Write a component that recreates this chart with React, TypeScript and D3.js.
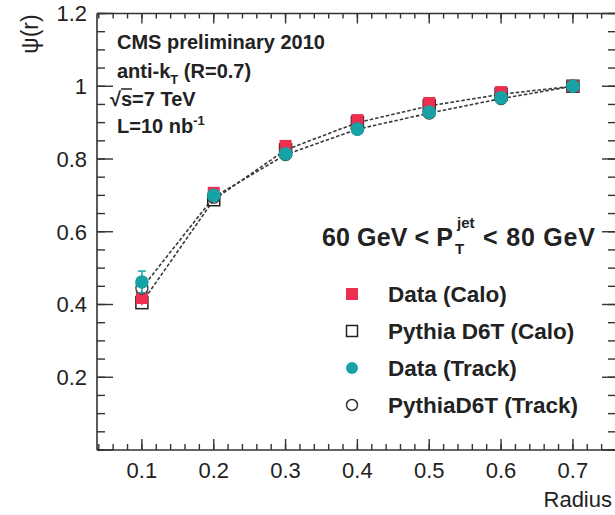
import React from "react";
import * as d3 from "d3";

const radius = [0.1, 0.2, 0.3, 0.4, 0.5, 0.6, 0.7];
const dataCalo = [0.418, 0.707, 0.836, 0.907, 0.954, 0.984, 1.0];
const dataCaloErr = [0.02, 0.006, 0, 0, 0, 0, 0];
const pythiaCalo = [0.405, 0.688, 0.825, 0.9, 0.946, 0.978, 1.0];
const dataTrack = [0.462, 0.7, 0.814, 0.882, 0.929, 0.968, 1.0];
const dataTrackErr = [0.03, 0.008, 0, 0, 0, 0, 0];
const pythiaTrack = [0.445, 0.695, 0.812, 0.882, 0.926, 0.966, 1.0];

const xMajor = [0.1, 0.2, 0.3, 0.4, 0.5, 0.6, 0.7];
const yMajor = [0, 0.2, 0.4, 0.6, 0.8, 1.0, 1.2];
const yLabels = ["", "0.2", "0.4", "0.6", "0.8", "1", "1.2"];
const legendLabels = ["Data (Calo)", "Pythia D6T (Calo)", "Data (Track)", "PythiaD6T (Track)"];

const W = 615;
const H = 515;
const L = 97, R = 616, T = 13.5, B = 450;
const RED = "#ee2e4f";
const TEAL = "#17a3a6";
const INK = "#222";
const AX = "#333";

export default function App() {
  const x = d3.scaleLinear().domain([0.0375, 0.76]).range([L, R]);
  const y = d3.scaleLinear().domain([0, 1.2]).range([B, T]);
  const xMinor = d3.range(0.04, 0.761, 0.02);
  const yMinor = d3.range(0, 1.201, 0.05);
  const line = (vals: number[]) =>
    d3.line<number>().x((_, i) => x(radius[i])).y((v) => y(v))(vals) || "";

  const sq = 12;
  const legY = [294, 331, 368, 405];
  const legX = 352;

  return (
    <svg width={W} height={H} style={{ position: "absolute", left: 0, top: 0, background: "#fff" }}
      fontFamily="'Liberation Sans', Arial, Helvetica, sans-serif">
      <rect width={W} height={H} fill="#fff" />
      {/* frame */}
      <g stroke={AX} strokeWidth={1.6} fill="none">
        <line x1={L} y1={T} x2={R} y2={T} />
        <line x1={L} y1={B} x2={R} y2={B} />
        <line x1={L} y1={T} x2={L} y2={B} />
        <line x1={R} y1={T} x2={R} y2={B} />
      </g>
      {/* ticks */}
      <g stroke={AX} strokeWidth={1.4}>
        {xMinor.map((v, i) => (
          <g key={"xm" + i}>
            <line x1={x(v)} x2={x(v)} y1={B} y2={B - 6} />
            <line x1={x(v)} x2={x(v)} y1={T} y2={T + 5} />
          </g>
        ))}
        {xMajor.map((v, i) => (
          <g key={"xM" + i}>
            <line x1={x(v)} x2={x(v)} y1={B} y2={B - 11} />
            <line x1={x(v)} x2={x(v)} y1={T} y2={T + 10} />
          </g>
        ))}
        {yMinor.map((v, i) => (
          <g key={"ym" + i}>
            <line x1={L} x2={L + 8} y1={y(v)} y2={y(v)} />
            <line x1={R} x2={R - 8} y1={y(v)} y2={y(v)} />
          </g>
        ))}
        {yMajor.map((v, i) => (
          <g key={"yM" + i}>
            <line x1={L} x2={L + 16} y1={y(v)} y2={y(v)} />
            <line x1={R} x2={R - 14} y1={y(v)} y2={y(v)} />
          </g>
        ))}
      </g>
      {/* tick labels */}
      <g fill={INK} fontSize={22}>
        {xMajor.map((v, i) => (
          <text key={"xl" + i} x={x(v)} y={478} textAnchor="middle">{v.toFixed(1)}</text>
        ))}
        {yMajor.map((v, i) => (
          <text key={"yl" + i} x={87} y={y(v)} dy="0.36em" textAnchor="end">{yLabels[i]}</text>
        ))}
        <text x={612} y={507} fontSize={22} textAnchor="end">Radius</text>
        <text transform="translate(38,34) rotate(-90)" textAnchor="middle" fontSize={23}>ψ(r)</text>
      </g>

      {/* lines */}
      <g fill="none" stroke="#3a3a3a" strokeWidth={1.6} strokeDasharray="3.5,2">
        <path d={line(pythiaCalo)} />
        <path d={line(pythiaTrack)} />
      </g>

      {/* pythia calo open squares */}
      {pythiaCalo.map((v, i) => (
        <rect key={"pc" + i} x={x(radius[i]) - sq / 2} y={y(v) - sq / 2} width={sq} height={sq}
          fill="none" stroke="#222" strokeWidth={1.5} />
      ))}
      {/* data calo */}
      {dataCalo.map((v, i) => (
        <g key={"dc" + i}>
          {dataCaloErr[i] > 0 && (
            <line x1={x(radius[i])} x2={x(radius[i])} y1={y(v - dataCaloErr[i])} y2={y(v + dataCaloErr[i])}
              stroke={RED} strokeWidth={1.5} />
          )}
          <rect x={x(radius[i]) - sq / 2} y={y(v) - sq / 2} width={sq} height={sq} fill={RED} />
        </g>
      ))}
      {/* pythia track open circles */}
      {pythiaTrack.map((v, i) => (
        <circle key={"pt" + i} cx={x(radius[i])} cy={y(v)} r={6} fill="none" stroke="#333" strokeWidth={1.3} />
      ))}
      {/* data track */}
      {dataTrack.map((v, i) => (
        <g key={"dt" + i}>
          {dataTrackErr[i] > 0 && (
            <g stroke={TEAL} strokeWidth={1.5}>
              <line x1={x(radius[i])} x2={x(radius[i])} y1={y(v - dataTrackErr[i])} y2={y(v + dataTrackErr[i])} />
              <line x1={x(radius[i]) - 4} x2={x(radius[i]) + 4} y1={y(v + dataTrackErr[i])} y2={y(v + dataTrackErr[i])} />
              <line x1={x(radius[i]) - 4} x2={x(radius[i]) + 4} y1={y(v - dataTrackErr[i])} y2={y(v - dataTrackErr[i])} />
            </g>
          )}
          <circle cx={x(radius[i])} cy={y(v)} r={6.8} fill={TEAL} />
        </g>
      ))}

      {/* CMS text block */}
      <g fill={INK} fontWeight="bold" fontSize={20}>
        <text x={117} y={49}>CMS preliminary 2010</text>
        <text x={117} y={78}>anti-k<tspan fontSize={13} dy={6}>T</tspan><tspan dy={-6}> (R=0.7)</tspan></text>
        <text x={110} y={106}>√s=7 TeV</text>
        <line x1={121} x2={132} y1={89} y2={89} stroke={INK} strokeWidth={1.5} />
        <text x={117} y={133}>L=10 nb<tspan fontSize={13} dy={-8}>-1</tspan></text>
      </g>

      {/* header */}
      <g fill={INK} fontWeight="bold">
        <text x={322} y={246} fontSize={25} textLength={131} lengthAdjust="spacing">60 GeV &lt; P</text>
        <text x={457} y={228} fontSize={15}>jet</text>
        <text x={455} y={254} fontSize={15}>T</text>
        <text x={483} y={246} fontSize={25} textLength={112} lengthAdjust="spacing">&lt; 80 GeV</text>
      </g>

      {/* legend */}
      <g>
        <rect x={legX - 6} y={legY[0] - 6} width={12} height={12} fill={RED} />
        <rect x={legX - 5.5} y={legY[1] - 5.5} width={11} height={11} fill="none" stroke="#222" strokeWidth={1.5} />
        <circle cx={legX} cy={legY[2]} r={6} fill={TEAL} />
        <circle cx={legX} cy={legY[3]} r={5.5} fill="none" stroke="#333" strokeWidth={1.5} />
        {legendLabels.map((t, i) => (
          <text key={"lg" + i} x={388} y={legY[i] + 8} fontSize={22.5} fontWeight="bold" fill={INK}>{t}</text>
        ))}
      </g>
    </svg>
  );
}
